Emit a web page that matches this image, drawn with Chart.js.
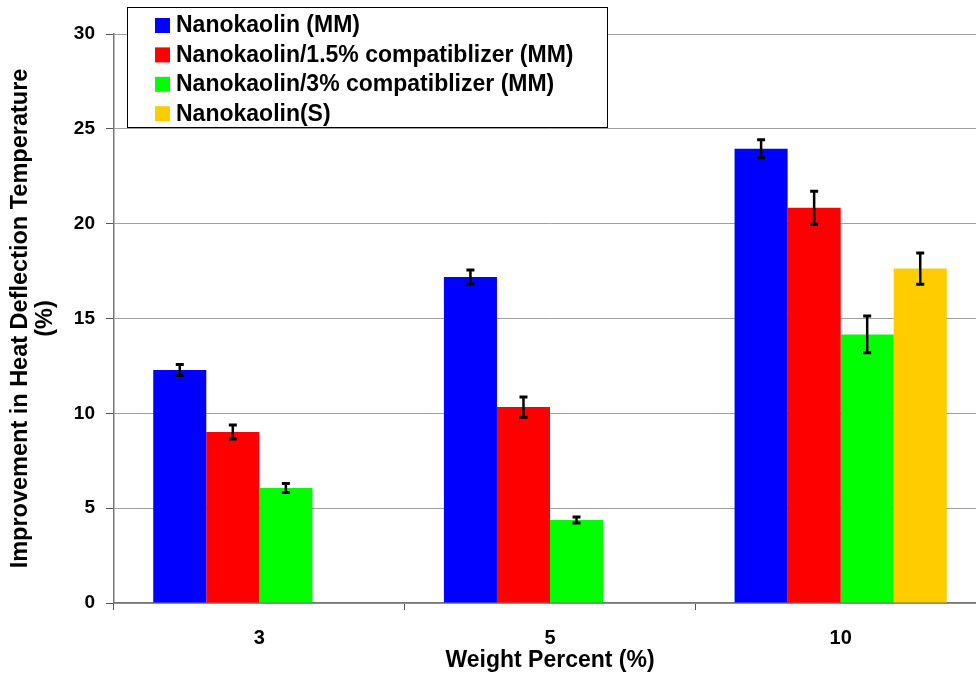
<!DOCTYPE html>
<html>
<head>
<meta charset="utf-8">
<script src="https://cdn.jsdelivr.net/npm/chart.js@4.4.1/dist/chart.umd.min.js"></script>
<style>
  html, body { margin: 0; padding: 0; background: #fff; overflow: hidden; }
  #chart { display: block; }
</style>
</head>
<body>
<canvas id="chart" width="986" height="677"></canvas>
<script>
// Data
const categories = ['3', '5', '10'];
const seriesLabels = [
  'Nanokaolin (MM)',
  'Nanokaolin/1.5% compatiblizer (MM)',
  'Nanokaolin/3% compatiblizer (MM)',
  'Nanokaolin(S)'
];
const nanoMM = [12.28, 17.19, 23.95];
const nano15 = [9.02, 10.33, 20.84];
const nano3 = [6.06, 4.38, 14.16];
const nanoS = [null, null, 17.63];
const errMM = [0.29, 0.37, 0.47];
const err15 = [0.37, 0.53, 0.87];
const err3 = [0.24, 0.16, 0.97];
const errS = [null, null, 0.82];
const yTicks = [0, 5, 10, 15, 20, 25, 30];

const colors = ['#0000ff', '#ff0000', '#00ff00', '#ffcc00'];
const values = [nanoMM, nano15, nano3, nanoS];
const errors = [errMM, err15, err3, errS];

const fontFamily = "'Liberation Sans', Arial, sans-serif";

// Error bars
const errorBars = {
  id: 'errorBars',
  afterDatasetsDraw(chart) {
    const ctx = chart.ctx;
    const y = chart.scales.y;
    chart.data.datasets.forEach((ds, i) => {
      const meta = chart.getDatasetMeta(i);
      meta.data.forEach((bar, j) => {
        const v = ds.data[j];
        const e = ds.errors[j];
        if (v == null || e == null) return;
        const top = y.getPixelForValue(v + e);
        const bot = y.getPixelForValue(v - e);
        ctx.save();
        ctx.strokeStyle = '#000';
        ctx.lineWidth = 2.5;
        ctx.beginPath();
        ctx.moveTo(bar.x, top);
        ctx.lineTo(bar.x, bot);
        ctx.stroke();
        ctx.lineWidth = 3;
        ctx.beginPath();
        ctx.moveTo(bar.x - 4, top);
        ctx.lineTo(bar.x + 4, top);
        ctx.moveTo(bar.x - 4, bot);
        ctx.lineTo(bar.x + 4, bot);
        ctx.stroke();
        ctx.restore();
      });
    });
  }
};

// Boxed legend inside the plot
const boxLegend = {
  id: 'boxLegend',
  afterDraw(chart) {
    const ctx = chart.ctx;
    ctx.save();
    ctx.fillStyle = '#fff';
    ctx.fillRect(127, 7, 480, 120);
    ctx.strokeStyle = '#000';
    ctx.lineWidth = 1;
    ctx.strokeRect(127.5, 7.5, 480, 120);
    ctx.font = "bold 23px " + fontFamily;
    ctx.textBaseline = 'middle';
    chart.data.datasets.forEach((ds, i) => {
      const cy = 25 + i * 29.4;
      ctx.fillStyle = ds.backgroundColor;
      ctx.fillRect(155, cy - 7, 15, 15);
      ctx.fillStyle = '#000';
      ctx.fillText(ds.label, 176, cy + 1);
    });
    ctx.restore();
  }
};

new Chart(document.getElementById('chart'), {
  type: 'bar',
  data: {
    labels: categories,
    datasets: values.map((d, i) => ({
      label: seriesLabels[i],
      data: d,
      errors: errors[i],
      backgroundColor: colors[i],
      borderWidth: 0
    }))
  },
  options: {
    responsive: false,
    animation: false,
    devicePixelRatio: 1,
    categoryPercentage: 0.73,
    barPercentage: 1,
    layout: { padding: { top: 34, right: 0, left: 0, bottom: 0 } },
    plugins: {
      legend: { display: false },
      tooltip: { enabled: false }
    },
    scales: {
      x: {
        grid: {
          drawOnChartArea: false,
          drawTicks: true,
          tickLength: 7,
          tickColor: '#555',
          offset: true
        },
        border: { color: '#777', width: 1.5 },
        ticks: {
          color: '#000',
          padding: 16,
          font: { family: fontFamily, size: 20, weight: 'bold' }
        },
        title: {
          display: true,
          text: 'Weight Percent (%)',
          color: '#000',
          padding: { top: 0, bottom: 3 },
          font: { family: fontFamily, size: 23, weight: 'bold' }
        },
        afterFit(scale) { scale.height = 74; }
      },
      y: {
        min: 0,
        max: 30,
        afterBuildTicks(scale) { scale.ticks = yTicks.map(v => ({ value: v })); },
        grid: {
          color: '#a0a0a0',
          lineWidth: 1,
          borderDash: [1, 1],
          tickLength: 8,
          tickColor: '#555',
          tickBorderDash: []
        },
        border: { color: '#777', width: 1.5 },
        ticks: {
          color: '#000',
          padding: 11,
          font: { family: fontFamily, size: 19, weight: 'bold' }
        },
        title: {
          display: true,
          text: ['Improvement in Heat Deflection Temperature', '(%)'],
          color: '#000',
          padding: { top: 8, bottom: 0 },
          font: { family: fontFamily, size: 23.5, weight: 'bold', lineHeight: 1.07 }
        },
        afterFit(scale) { scale.width = 114; }
      }
    }
  },
  plugins: [errorBars, boxLegend]
});
</script>
</body>
</html>
